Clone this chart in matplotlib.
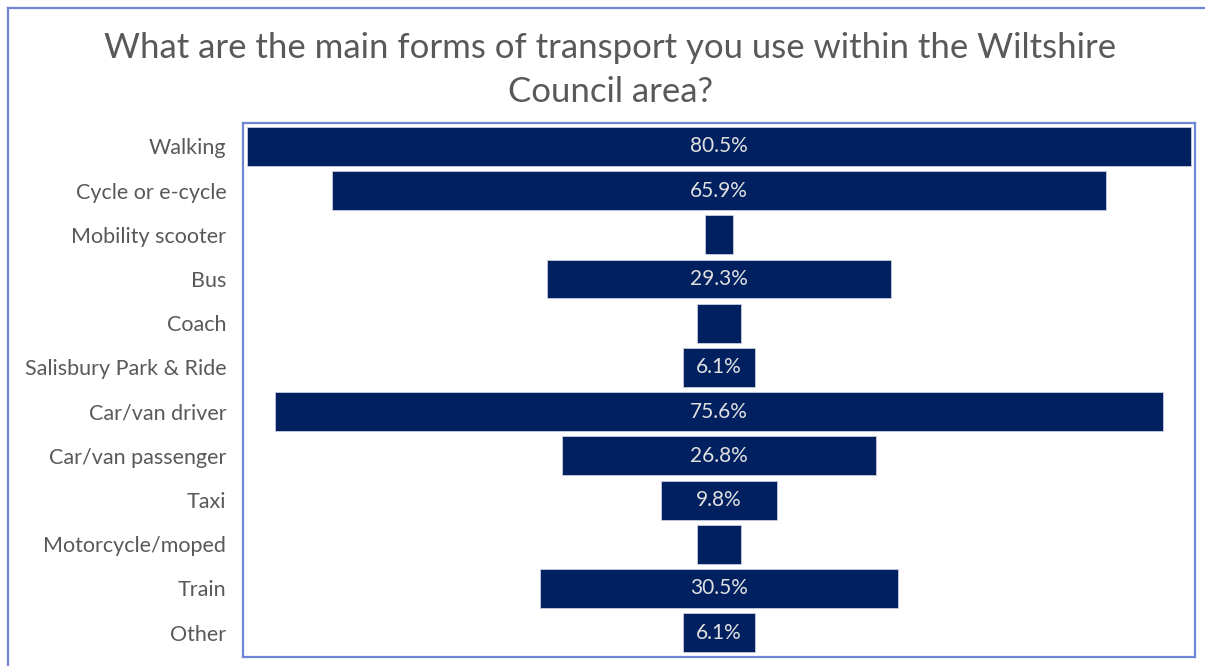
import matplotlib.pyplot as plt
from matplotlib.lines import Line2D

# data (percent of respondents)
categories = ['Walking', 'Cycle or e-cycle', 'Mobility scooter', 'Bus', 'Coach',
              'Salisbury Park & Ride', 'Car/van driver', 'Car/van passenger', 'Taxi',
              'Motorcycle/moped', 'Train', 'Other']
values = [80.5, 65.9, 2.4, 29.3, 3.7, 6.1, 75.6, 26.8, 9.8, 3.7, 30.5, 6.1]
# small bars carry no label in the original
show_label = [True, True, False, True, False, True, True, True, True, False, True, True]

title = 'What are the main forms of transport you use within the Wiltshire\nCouncil area?'

plt.rcParams['font.family'] = ['Lato', 'DejaVu Sans']

W, H = 1205, 666
fig = plt.figure(figsize=(W / 100, H / 100), dpi=100)

# plot box in pixels: left 243, right 1195, top 123, bottom 657
ax = fig.add_axes([243 / W, 1 - 657 / H, (1195 - 243) / W, (657 - 123) / H])

ypos = list(range(len(categories)))
lefts = [-v / 2 for v in values]
ax.barh(ypos, values, left=lefts, height=0.88, color='#002060',
        edgecolor='#c8cde0', linewidth=0.6)

for y, v, s in zip(ypos, values, show_label):
    if s:
        ax.text(0, y, f'{v:.1f}%', ha='center', va='center', color='#e0e0e0',
                fontsize=15)

ax.set_xlim(-40.55, 40.55)
ax.set_ylim(len(categories) - 0.45, -0.53)
ax.set_xticks([])
ax.set_yticks(ypos)
ax.set_yticklabels(categories, fontsize=15.5, color='#595959')
ax.tick_params(axis='y', length=0, pad=12)
for sp in ax.spines.values():
    sp.set_color('#6f86d6')
    sp.set_linewidth(1.6)

fig.text(610 / W, 1 - 70 / H, title, ha='center', va='center', fontsize=25,
         color='#595959', linespacing=1.5)

# outer chart border (left and top visible)
border_col = '#6f86d6'
fig.add_artist(Line2D([8 / W, 8 / W], [0, 1 - 8 / H], transform=fig.transFigure,
                      color=border_col, linewidth=1.6))
fig.add_artist(Line2D([8 / W, 1], [1 - 8 / H, 1 - 8 / H], transform=fig.transFigure,
                      color=border_col, linewidth=1.6))

fig.savefig('out.png', dpi=100)
